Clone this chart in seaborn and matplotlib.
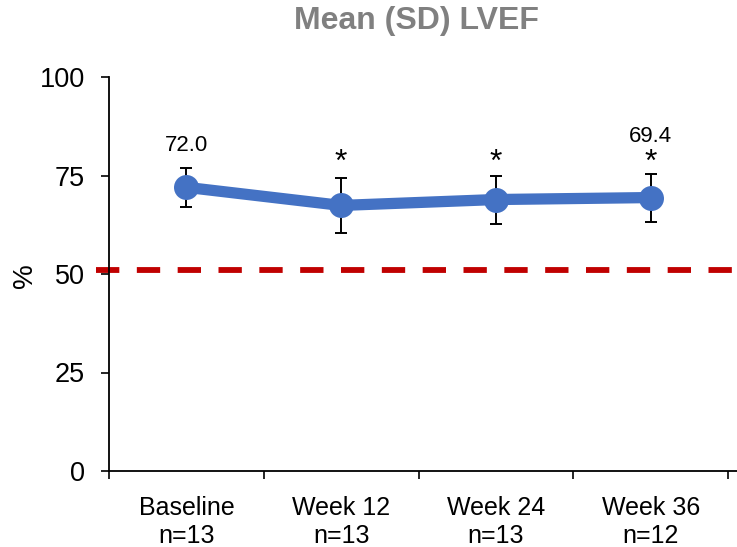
import matplotlib
matplotlib.use("Agg")
import matplotlib.pyplot as plt
import seaborn as sns
import numpy as np
import pandas as pd

# ---- data ----
categories = ["Baseline\nn=13", "Week 12\nn=13", "Week 24\nn=13", "Week 36\nn=12"]
mean_lvef = [72.0, 67.4, 68.9, 69.4]
sd_lvef = [4.9, 6.9, 6.1, 6.1]
value_labels = ["72.0", "", "", "69.4"]
significant = [False, True, True, True]
threshold = 51
yticks = [0, 25, 50, 75, 100]

sns.set_theme(style="white")
plt.rcParams["font.family"] = ["Liberation Sans", "DejaVu Sans"]

fig = plt.figure(figsize=(7.37, 5.47), dpi=100)
ax = fig.add_axes([109 / 737, 1 - 471 / 547, 628 / 737, 394 / 547])

df = pd.DataFrame({"x": np.arange(len(categories)), "mean": mean_lvef, "sd": sd_lvef})

ax.set_xlim(-0.5, 3.558)
ax.set_ylim(0, 100)
ax.set_yticks(yticks)
ax.set_yticklabels([str(v) for v in yticks], fontsize=19.5, color="black")
ax.set_xticks([-0.5, 0.5, 1.5, 2.5, 3.5])
ax.set_xticklabels([])
ax.set_xticks(df["x"], minor=True)
ax.set_xticklabels(categories, minor=True, fontsize=18, color="black", linespacing=1.2)
ax.tick_params(axis="x", which="major", direction="out", length=5.5, width=1.2, color="black", bottom=True)
ax.tick_params(axis="x", which="minor", length=0, pad=18)
ax.tick_params(axis="y", direction="out", length=5.5, width=1.2, color="black", left=True, pad=12)
for s in ["top", "right"]:
    ax.spines[s].set_visible(False)
for s in ["left", "bottom"]:
    ax.spines[s].set_color("black")
    ax.spines[s].set_linewidth(1.3)
ax.set_ylabel("%", fontsize=20, color="black", va="center")
ax.yaxis.set_label_coords(-0.133, 0.497)

# threshold line
ax.axhline(threshold, xmin=-0.02, xmax=1.0, color="#C00000", lw=4.2,
           dashes=(4.0, 3.0), clip_on=False, zorder=1)

# error bars and mean line
ax.errorbar(df["x"], df["mean"], yerr=df["sd"], fmt="none", ecolor="black",
            elinewidth=1.4, capsize=4.3, capthick=1.4, zorder=2)
sns.lineplot(data=df, x="x", y="mean", ax=ax, color="#4472C4", lw=8.1,
             marker="o", markersize=18, markeredgewidth=0, zorder=3)
ax.set_xlabel("")

for i in range(len(mean_lvef)):
    top = mean_lvef[i] + sd_lvef[i]
    if significant[i]:
        ax.text(i, 76.2, "*", ha="center", va="baseline", fontsize=23, color="black")
    if value_labels[i]:
        off = 8.0 if significant[i] else 4.3
        ax.text(i, top + off, value_labels[i], ha="center", va="baseline",
                fontsize=16, color="black")

fig.text(416 / 737, 1 - 21 / 547, "Mean (SD) LVEF", ha="center", va="center",
         fontsize=23, fontweight="bold", color="#808080")

fig.savefig("out.png", dpi=100)
